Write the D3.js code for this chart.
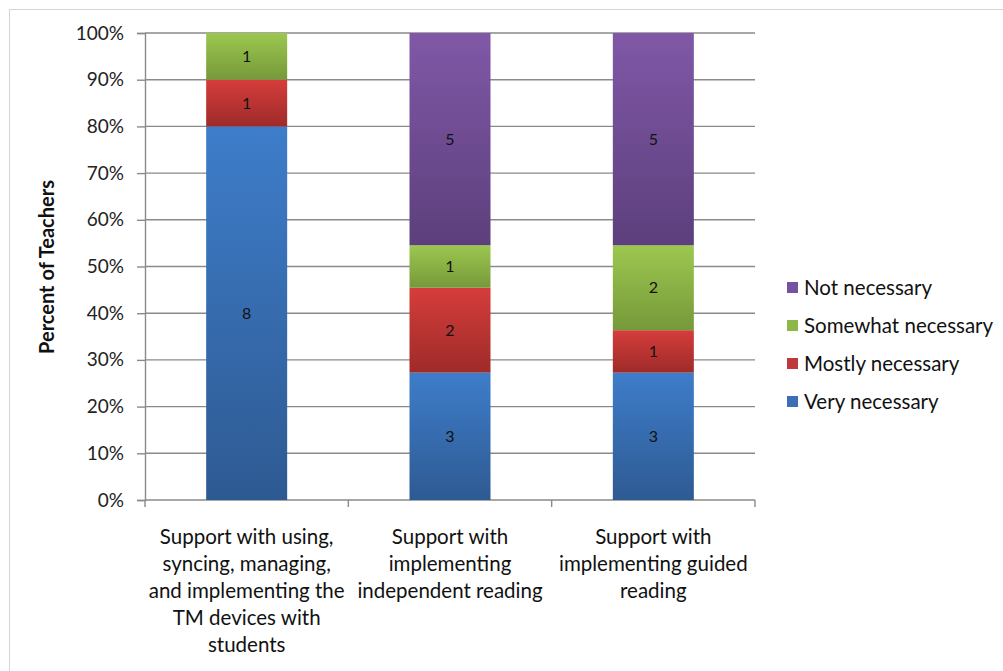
<!DOCTYPE html>
<html><head><meta charset="utf-8">
<script src="https://cdn.jsdelivr.net/npm/d3@7"></script>
<style>body{margin:0;background:#fff;}svg{display:block;font-family:Lato,"Open Sans",sans-serif;}</style>
</head><body><svg id="c" width="1003" height="671"></svg>
<script>
const categories = [
  ["Support with using,","syncing, managing,","and implementing the","TM devices with","students"],
  ["Support with","implementing","independent reading"],
  ["Support with","implementing guided","reading"]
];
const seriesNames = ["Very necessary","Mostly necessary","Somewhat necessary","Not necessary"];
const veryNecessary = [8,3,3];
const mostlyNecessary = [1,2,1];
const somewhatNecessary = [1,1,2];
const notNecessary = [0,5,5];
const yTicks = [0,0.1,0.2,0.3,0.4,0.5,0.6,0.7,0.8,0.9,1.0];
const colorsTop = ["#3e7dca","#d53d3b","#9cc74f","#8058a7"];
const colorsBot = ["#2e5a92","#9e2b29","#76993a","#5d3f7c"];
const legendCols = ["#3c6fb5","#c0393a","#8cb848","#7452a0"];

const series = [veryNecessary, mostlyNecessary, somewhatNecessary, notNecessary];
const svg = d3.select("#c");
svg.append("rect").attr("x",9.5).attr("y",9.5).attr("width",1010).attr("height",700)
  .attr("fill","none").attr("stroke","#d4d4d4");

const defs = svg.append("defs");
seriesNames.forEach((n,i)=>{
  const g = defs.append("linearGradient").attr("id","g"+i).attr("x1",0).attr("y1",0).attr("x2",0).attr("y2",1);
  g.append("stop").attr("offset","0%").attr("stop-color",colorsTop[i]);
  g.append("stop").attr("offset","100%").attr("stop-color",colorsBot[i]);
});

const x0 = 145, x1 = 755, yTop = 33, yBot = 500;
const x = d3.scaleBand().domain(d3.range(categories.length)).range([x0,x1]).paddingInner(0).paddingOuter(0);
const y = d3.scaleLinear().domain([0,1]).range([yBot,yTop]);

svg.append("g").selectAll("line").data(yTicks.filter(t=>t>0)).join("line")
  .attr("x1",x0).attr("x2",x1).attr("y1",d=>y(d)).attr("y2",d=>y(d))
  .attr("stroke","#8a8a8a").attr("stroke-width",1.4);

const ya = svg.append("g").attr("transform",`translate(${x0},0)`)
  .call(d3.axisLeft(y).tickValues(yTicks).tickFormat(d3.format(".0%")).tickSize(8).tickPadding(13));
ya.select(".domain").attr("stroke","#8a8a8a").attr("stroke-width",1.4);
ya.selectAll(".tick line").attr("stroke","#8a8a8a").attr("stroke-width",1.4);
ya.selectAll("text").attr("font-size",19).attr("fill","#222").attr("font-family","Lato,sans-serif");

svg.append("line").attr("x1",x0).attr("x2",x1).attr("y1",yBot).attr("y2",yBot).attr("stroke","#8a8a8a").attr("stroke-width",1.4);
svg.append("g").selectAll("line").data(d3.range(categories.length+1)).join("line")
  .attr("x1",d=>x0+d*x.step()).attr("x2",d=>x0+d*x.step()).attr("y1",yBot).attr("y2",yBot+7)
  .attr("stroke","#8a8a8a").attr("stroke-width",1.4);

const bw = 81;
categories.forEach((c,ci)=>{
  const total = d3.sum(series, s=>s[ci]);
  let cum = 0;
  series.forEach((s,si)=>{
    const v = s[ci];
    if(!v) return;
    const a = cum/total, b = (cum+v)/total; cum += v;
    const cx = x(ci)+x.bandwidth()/2;
    svg.append("rect").attr("x",cx-bw/2).attr("width",bw).attr("y",y(b)).attr("height",y(a)-y(b))
      .attr("fill",`url(#g${si})`);
    svg.append("text").attr("x",cx).attr("y",(y(a)+y(b))/2).attr("dy","0.35em").attr("text-anchor","middle")
      .attr("font-size",16).attr("fill","#111").text(v);
  });
  const t = svg.append("text").attr("text-anchor","middle").attr("font-size",20.5).attr("fill","#111");
  c.forEach((line,li)=>t.append("tspan").attr("x",x(ci)+x.bandwidth()/2).attr("y",544+li*27).text(line));
});

svg.append("text").attr("transform","translate(54,267) rotate(-90)").attr("text-anchor","middle")
  .attr("font-size",20).attr("font-weight","bold").attr("fill","#111").text("Percent of Teachers");

const order = [3,2,1,0];
order.forEach((si,k)=>{
  const yy = 288 + k*38;
  svg.append("rect").attr("x",787).attr("y",yy-6).attr("width",11).attr("height",11).attr("fill",legendCols[si]);
  svg.append("text").attr("x",804).attr("y",yy).attr("dy","0.35em").attr("font-size",20.5).attr("fill","#111").text(seriesNames[si]);
});
</script></body></html>
